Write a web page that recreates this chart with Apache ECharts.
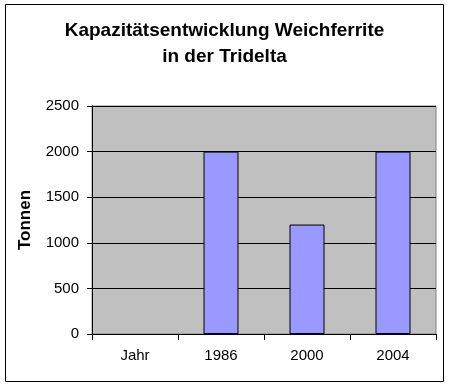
<!DOCTYPE html>
<html>
<head>
<meta charset="utf-8">
<script src="https://cdn.jsdelivr.net/npm/echarts@6/dist/echarts.min.js"></script>
<style>
html,body{margin:0;padding:0;background:#fff;}
#c{width:449px;height:390px;}
</style>
</head>
<body>
<div id="c"></div>
<script>
const categories = ['Jahr', '1986', '2000', '2004'];
const tonnen = [null, 2000, 1200, 2000];
const yTicks = [0, 500, 1000, 1500, 2000, 2500];

const chart = echarts.init(document.getElementById('c'), null, {renderer: 'canvas'});
chart.setOption({
  animation: false,
  backgroundColor: '#ffffff',
  title: {
    text: 'Kapazitätsentwicklung Weichferrite\nin der Tridelta',
    left: 'center',
    top: 13,
    textStyle: {
      fontFamily: 'Liberation Sans, Arial, sans-serif',
      fontSize: 19,
      fontWeight: 'bold',
      color: '#000',
      lineHeight: 26
    }
  },
  graphic: [{
    type: 'rect',
    shape: {x: 5.5, y: 4.5, width: 438, height: 377},
    style: {fill: 'none', stroke: '#000', lineWidth: 1},
    silent: true, z: 100
  }],
  grid: {
    left: 92, right: 13, top: 106, bottom: 56,
    show: true,
    backgroundColor: '#C0C0C0',
    borderColor: '#808080',
    borderWidth: 1
  },
  xAxis: {
    type: 'category',
    data: categories,
    axisLine: {lineStyle: {color: '#000', width: 1}},
    axisTick: {show: true, length: 6, alignWithLabel: false, lineStyle: {color: '#000'}},
    axisLabel: {
      margin: 14,
      fontFamily: 'Liberation Sans, Arial, sans-serif',
      fontSize: 15,
      color: '#000'
    }
  },
  yAxis: {
    type: 'value',
    min: yTicks[0],
    max: yTicks[yTicks.length - 1],
    interval: 500,
    name: 'Tonnen',
    nameLocation: 'middle',
    nameRotate: 90,
    nameGap: 58,
    nameTextStyle: {
      fontFamily: 'Liberation Sans, Arial, sans-serif',
      fontSize: 17,
      fontWeight: 'bold',
      color: '#000'
    },
    axisLine: {show: true, lineStyle: {color: '#000', width: 1}},
    axisTick: {show: true, length: 5, lineStyle: {color: '#000'}},
    splitLine: {show: true, lineStyle: {color: '#000', width: 1}},
    axisLabel: {
      margin: 13,
      formatter: function (v) { return String(v); },
      fontFamily: 'Liberation Sans, Arial, sans-serif',
      fontSize: 15,
      color: '#000'
    }
  },
  series: [{
    type: 'bar',
    data: tonnen,
    barWidth: 35,
    itemStyle: {color: '#9999FF', borderColor: '#000', borderWidth: 1}
  }]
});
</script>
</body>
</html>
